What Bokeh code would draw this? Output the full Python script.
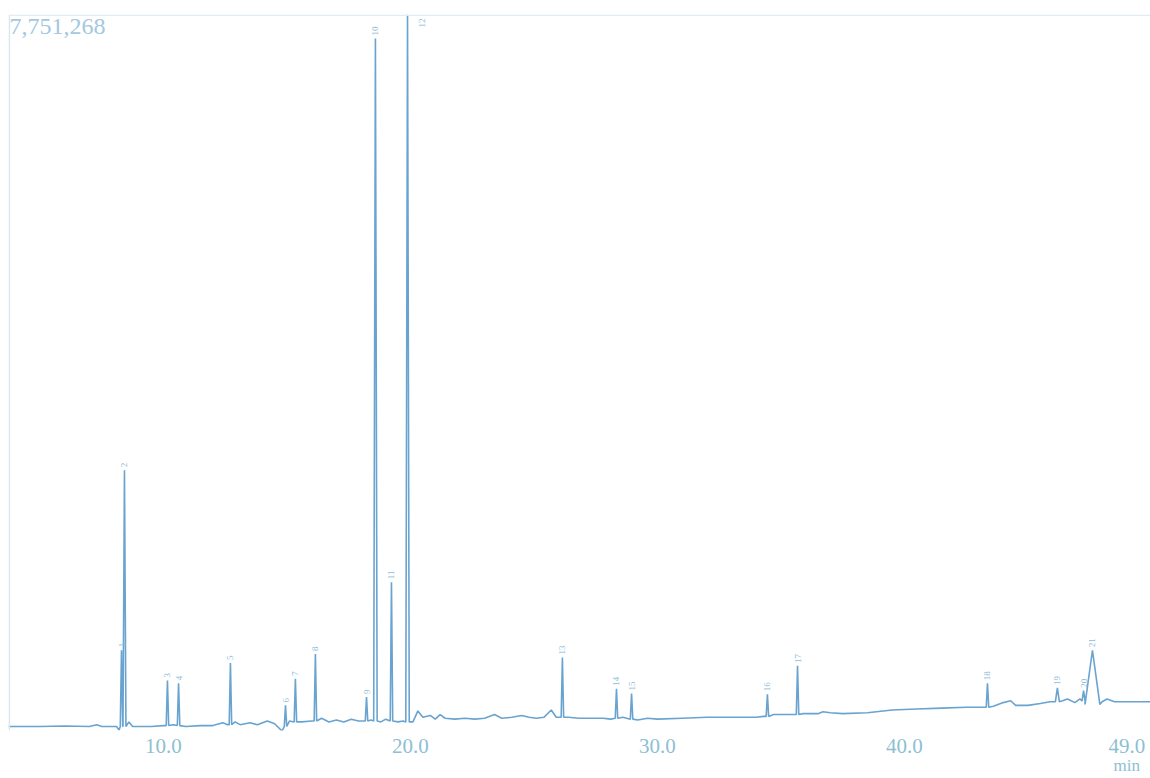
import math
from bokeh.plotting import figure
from bokeh.models import Range1d, FixedTicker, LinearAxis, Span, Label, ColumnDataSource
from bokeh.core.properties import value
from bokeh.embed import file_html
from bokeh.resources import INLINE

# ---- data ----
max_intensity = 7751268
max_label = "7,751,268"

# retention times (min) of labelled peaks
peak_time = [8.30, 8.42, 10.16, 10.61, 12.71, 14.94, 15.34, 16.15, 18.22, 18.58, 19.23,
             19.88, 26.15, 28.34, 28.95, 34.45, 35.67, 43.36, 46.19, 47.25, 47.61]
# apex intensity (counts)
peak_height = [830000, 2790000, 500000, 470000, 690000, 230000, 520000, 790000, 320000,
               7490000, 1570000, 7751268, 750000, 410000, 360000, 350000, 660000, 470000,
               420000, 390000, 830000]
# local baseline under each peak (counts)
peak_base = [0, 0, 10000, 10000, 20000, 0, 50000, 60000, 60000, 60000, 60000,
             50000, 100000, 90000, 80000, 110000, 130000, 210000, 270000, 280000, 240000]
# half width of each peak (min)
peak_halfwidth = [0.05, 0.06, 0.05, 0.05, 0.05, 0.05, 0.05, 0.05, 0.05, 0.07, 0.05,
                  0.07, 0.05, 0.05, 0.05, 0.05, 0.05, 0.05, 0.08, 0.06, 0.30]
peak_labels = [str(i + 1) for i in range(len(peak_time))]

# baseline / noise points between peaks (min, counts)
baseline_time = [3.72, 5.0, 6.0, 7.0, 7.3, 7.5, 8.1, 8.2, 8.6, 8.75, 9.0, 9.5, 10.0, 10.4,
                 10.9, 11.5, 12.0, 12.4, 12.6, 12.9, 13.1, 13.5, 13.8, 14.2, 14.5, 14.8,
                 15.1, 15.6, 16.0, 16.4, 16.7, 17.0, 17.3, 17.6, 17.9, 18.4, 18.8, 19.0,
                 19.5, 19.7, 20.1, 20.3, 20.5, 20.8, 21.0, 21.2, 21.4, 21.8, 22.2, 22.6,
                 23.0, 23.4, 23.7, 24.1, 24.5, 24.8, 25.1, 25.4, 25.7, 25.9, 26.4, 26.8,
                 27.3, 27.8, 28.1, 28.6, 29.2, 29.6, 30.0, 31.0, 32.0, 33.0, 34.0, 34.3,
                 34.7, 35.2, 35.9, 36.5, 36.7, 37.0, 37.5, 38.5, 39.5, 40.5, 41.5, 42.5,
                 43.0, 43.6, 44.0, 44.3, 44.5, 45.0, 45.5, 45.9, 46.4, 46.6, 46.9, 47.1,
                 48.0, 48.2, 48.5, 49.0, 50.0]
baseline_level = [0, 0, 5000, 0, 20000, 0, 0, -40000, 50000, 0, 0, 0, 10000, 20000,
                  0, 10000, 10000, 40000, 20000, 50000, 20000, 40000, 20000, 60000, 30000, -50000,
                  60000, 50000, 60000, 90000, 50000, 70000, 50000, 80000, 60000, 70000, 50000, 80000,
                  50000, 60000, 50000, 170000, 100000, 120000, 80000, 130000, 90000, 80000, 90000, 80000,
                  90000, 130000, 90000, 100000, 120000, 100000, 90000, 100000, 180000, 100000, 100000, 90000,
                  90000, 90000, 80000, 100000, 70000, 90000, 80000, 90000, 100000, 100000, 100000, 110000,
                  130000, 130000, 140000, 140000, 160000, 150000, 140000, 150000, 180000, 190000, 200000, 210000,
                  210000, 220000, 260000, 280000, 230000, 230000, 250000, 270000, 280000, 300000, 260000, 300000,
                  270000, 300000, 270000, 270000, 270000]

x_ticks = [10, 20, 30, 40, 49]
x_tick_labels = ["10.0", "20.0", "30.0", "40.0", "49.0"]
unit_tick = [49]
unit_label = ["min"]

# ---- assemble trace ----
pts = []
for t, lv in zip(baseline_time, baseline_level):
    inside = any(abs(t - pt) <= hw for pt, hw in zip(peak_time, peak_halfwidth))
    if not inside:
        pts.append((t, lv))
for pt, ph, pb, hw in zip(peak_time, peak_height, peak_base, peak_halfwidth):
    pts.append((pt - hw, pb))
    pts.append((pt, ph))
    pts.append((pt + hw, pb))
pts.sort(key=lambda p: p[0])
trace = ColumnDataSource(dict(t=[p[0] for p in pts], y=[p[1] for p in pts]))

# ---- figure ----
SERIF = value("Liberation Serif")
p = figure(width=1150, height=778, output_backend="svg", toolbar_location=None,
           x_range=Range1d(3.725, 49.96), y_range=Range1d(-43500, max_intensity),
           x_axis_location=None, y_axis_location=None,
           min_border_left=8, min_border_right=0, min_border_top=14, min_border_bottom=48)
p.grid.visible = False
p.outline_line_color = None
p.background_fill_color = "white"
p.border_fill_color = "white"

p.add_layout(Span(location=3.76, dimension="height", line_color="#d6e6ef", line_width=1.5))
p.add_layout(Span(location=max_intensity * 0.999, dimension="width", line_color="#e2edf3", line_width=1.5))

p.line("t", "y", source=trace, line_color="#4f93c8", line_width=1.6, line_alpha=0.85)

# peak number labels
n_lab = dict(x=[], y=[], txt=[])
top_lab = dict(x=[], y=[], txt=[])
for pt, ph, lb in zip(peak_time, peak_height, peak_labels):
    if ph >= max_intensity * 0.99:
        top_lab["x"].append(pt + 0.6)
        top_lab["y"].append(max_intensity)
        top_lab["txt"].append(lb)
    else:
        n_lab["x"].append(pt)
        n_lab["y"].append(ph)
        n_lab["txt"].append(lb)
p.text("x", "y", text="txt", source=ColumnDataSource(n_lab), angle=math.pi / 2,
       text_align="left", text_baseline="middle", y_offset=-3,
       text_font=SERIF, text_font_size="9px", text_color="#8dbcd8")
p.text("x", "y", text="txt", source=ColumnDataSource(top_lab), angle=math.pi / 2,
       text_align="right", text_baseline="middle", y_offset=4,
       text_font=SERIF, text_font_size="9px", text_color="#8dbcd8")

p.add_layout(Label(x=3.77, y=max_intensity, text=max_label, text_baseline="top",
                   y_offset=-4, text_font="Liberation Serif", text_font_size="24px",
                   text_color="#a3c8df"))

ax = LinearAxis(ticker=FixedTicker(ticks=x_ticks),
                major_label_overrides={k: v for k, v in zip(x_ticks, x_tick_labels)})
ax2 = LinearAxis(ticker=FixedTicker(ticks=unit_tick),
                 major_label_overrides={k: v for k, v in zip(unit_tick, unit_label)})
for a, so, fs in ((ax, 8, "21px"), (ax2, 0, "17px")):
    a.axis_line_color = None
    a.major_tick_line_color = None
    a.minor_tick_line_color = None
    a.major_tick_out = 0
    a.major_tick_in = 0
    a.major_label_standoff = so
    a.major_label_text_font = "Liberation Serif"
    a.major_label_text_font_size = fs
    a.major_label_text_color = "#8dbfd3"
p.add_layout(ax, "below")
p.add_layout(ax2, "below")

open("out.html", "w").write(file_html(p, INLINE))
